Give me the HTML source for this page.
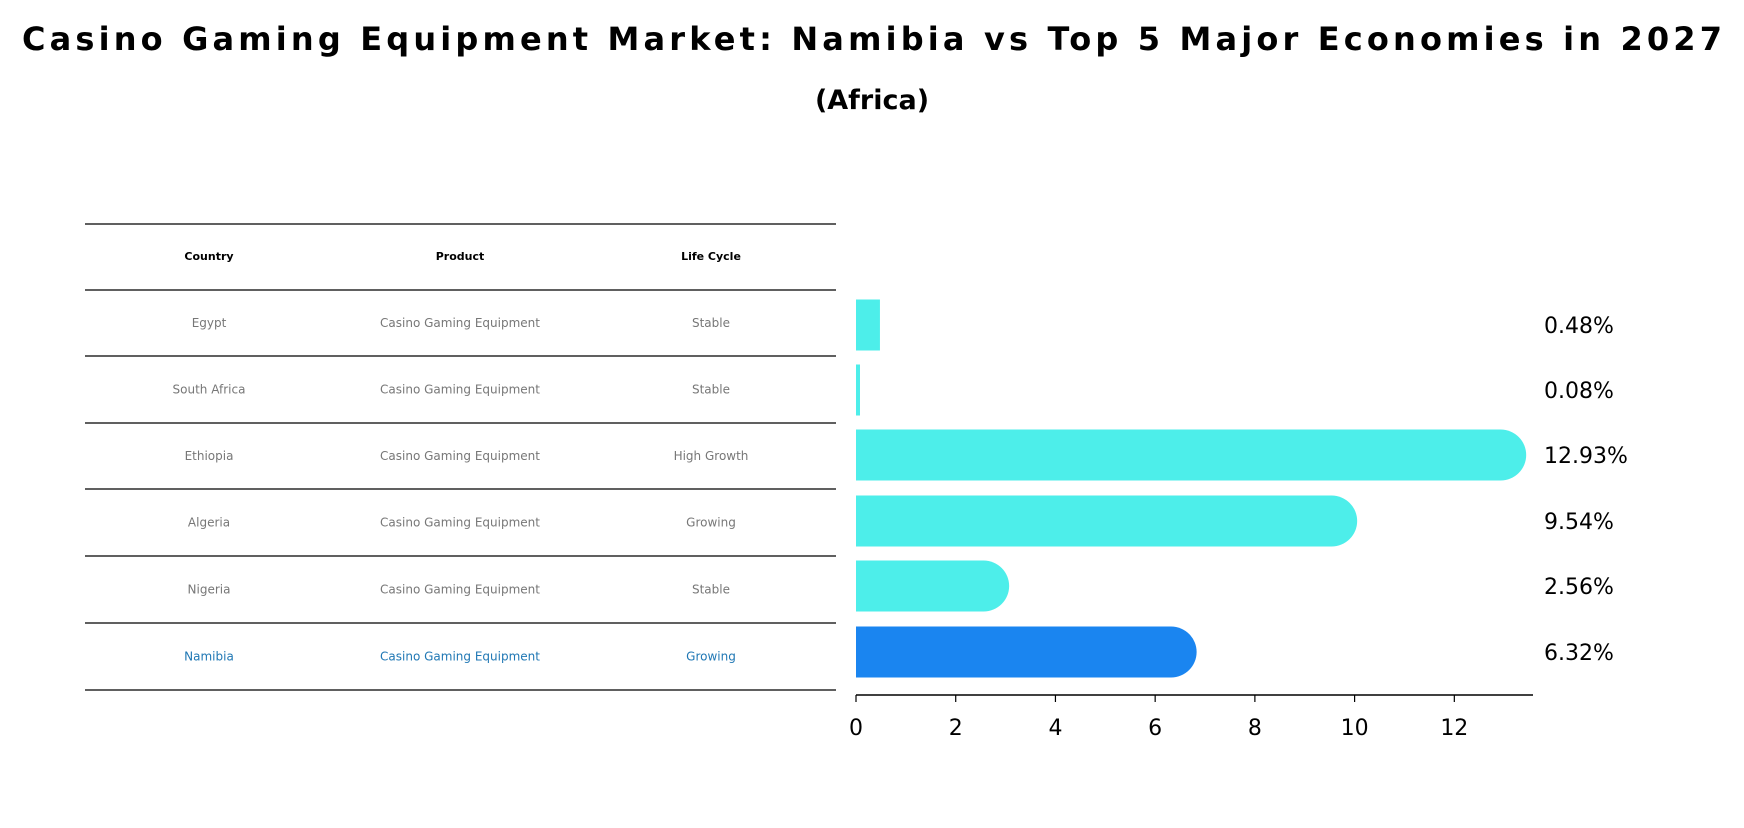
<!DOCTYPE html>
<html><head><meta charset="utf-8"><style>
body{margin:0;background:#fff;width:1744px;height:823px;overflow:hidden}
svg text{font-family:"DejaVu Sans","Liberation Sans",sans-serif}
</style></head><body>
<svg width="1744" height="823" viewBox="0 0 1744 823">
<text x="872" y="50" text-anchor="middle" font-size="32" font-weight="bold" textLength="1700">Casino Gaming Equipment Market: Namibia vs Top 5 Major Economies in 2027</text>
<text x="872" y="109" text-anchor="middle" font-size="27" font-weight="bold">(Africa)</text>
<g id="table"></g>
<g id="bars"></g>
</svg>
<script>
const countries=["Egypt","South Africa","Ethiopia","Algeria","Nigeria","Namibia"];
const products=["Casino Gaming Equipment","Casino Gaming Equipment","Casino Gaming Equipment","Casino Gaming Equipment","Casino Gaming Equipment","Casino Gaming Equipment"];
const lifeCycles=["Stable","Stable","High Growth","Growing","Stable","Growing"];
const values=[0.48,0.08,12.93,9.54,2.56,6.32];
const labels=["0.48%","0.08%","12.93%","9.54%","2.56%","6.32%"];
const ticks=[0,2,4,6,8,10,12];
const NS="http://www.w3.org/2000/svg";
function mk(tag,attrs,parent,text){const e=document.createElementNS(NS,tag);for(const k in attrs)e.setAttribute(k,attrs[k]);if(text!==undefined)e.textContent=text;parent.appendChild(e);return e;}
const tbl=document.getElementById('table');
const rowY=[224,290,356,423,489,556,623,690];
const colX=[209,460,711];
for(const y of rowY){const l=mk('line',{x1:85,x2:836,y1:y,y2:y,stroke:'#000','stroke-width':1.2},tbl);

}
["Country","Product","Life Cycle"].forEach((h,i)=>{const t=mk('text',{x:colX[i],y:260,'text-anchor':'middle','font-size':11,'font-weight':'bold'},tbl,h);

});
countries.forEach((c,r)=>{const y=(rowY[r+1]+rowY[r+2])/2+4;const col=r===5?'#1f77b4':'#777';
[c,products[r],lifeCycles[r]].forEach((v,i)=>{const t=mk('text',{x:colX[i],y:y,'text-anchor':'middle','font-size':12,fill:col},tbl,v);

});});
const g=document.getElementById('bars');
const x0=856,ppu=49.86;const xs=v=>x0+v*ppu;
const yc=[325,390,455,521,586,652];const bh=51;
values.forEach((v,i)=>{const col=i===5?'#1a85f0':'#4deeea';const w=xs(v)-x0;
let b;
if(v>1){const r=bh/2;b=mk('path',{d:`M${x0},${yc[i]-r}H${x0+w}A${r},${r} 0 0 1 ${x0+w},${yc[i]+r}H${x0}Z`,fill:col},g);}
else{b=mk('rect',{x:x0,y:yc[i]-bh/2,width:Math.max(w,2),height:bh,fill:col},g);}


const t=mk('text',{x:1544,y:yc[i]+8,'font-size':22},g,labels[i]);

});
const ax=mk('line',{x1:x0,x2:1533,y1:695,y2:695,stroke:'#000','stroke-width':1.5},g);


ticks.forEach(t=>{const l=mk('line',{x1:xs(t),x2:xs(t),y1:695,y2:702,stroke:'#000','stroke-width':1.2},g);


const tx=mk('text',{x:xs(t),y:735,'text-anchor':'middle','font-size':22},g,String(t));

});
</script>
</body></html>
